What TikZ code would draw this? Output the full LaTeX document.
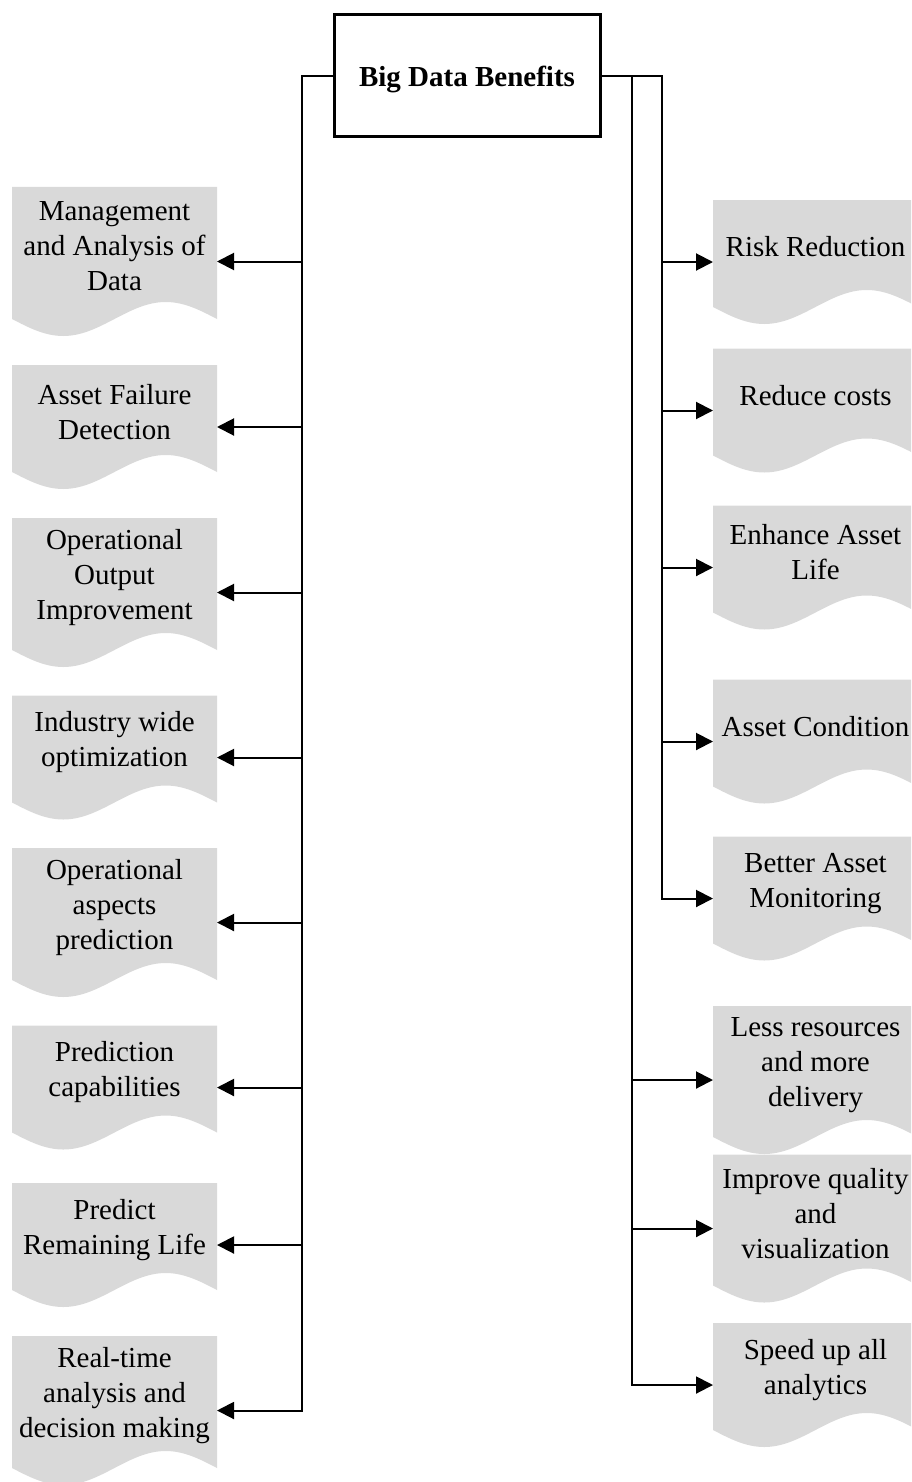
\documentclass[tikz,border=0pt]{standalone}
\usepackage{fontspec}
\setmainfont{Liberation Serif}
\usetikzlibrary{arrows.meta}
\definecolor{docfill}{RGB}{217,217,217}

\tikzset{
  docshape/.style={
    minimum width=205pt, minimum height=#1pt, inner sep=0pt, outer sep=0pt,
    path picture={
      \fill[docfill] (path picture bounding box.north west)
        -- (path picture bounding box.north east)
        -- ([yshift=17pt]path picture bounding box.south east)
        sin ++(-51.25pt,17pt) cos ++(-51.25pt,-17pt)
        sin ++(-51.25pt,-17pt) cos ++(-51.25pt,17pt) -- cycle;
    }},
  doctext/.style={align=center, inner sep=0pt,
    font=\fontsize{29}{35}\selectfont},
  titlebox/.style={draw, line width=3pt, minimum width=266pt,
    minimum height=122pt, inner sep=0pt, outer sep=0pt,
    font=\fontsize{29}{35}\selectfont\bfseries},
  conn/.style={line width=2pt, -{Triangle[length=17pt,width=17pt]}},
}

% a document-shaped box with its caption set above the wavy bottom
\newcommand\docnode[5]{%
  \node[docshape=#4] (#1) at (#2,#3) {};
  \node[doctext] (#1-t) at ([yshift=15pt]#1.center) {#5};
}

\begin{document}
\begin{tikzpicture}[x=1pt,y=-1pt]
\useasboundingbox (0,0) rectangle (911,1482);
\clip (0,0) rectangle (911,1482);

\node[titlebox] (title) at (467,76)
  {\raisebox{-3.5pt}[\height][\depth]{Big Data Benefits}};

% left column
\docnode{L1}{114.5}{261.5}{149}{Management\\and Analysis of\\Data}
\docnode{L2}{114.5}{427}{124}{Asset Failure\\Detection}
\docnode{L3}{114.5}{592.5}{149}{Operational\\Output\\Improvement}
\docnode{L4}{114.5}{757.5}{124}{Industry wide\\optimization}
\docnode{L5}{114.5}{922.5}{149}{Operational\\aspects\\prediction}
\docnode{L6}{114.5}{1087.5}{124}{Prediction\\capabilities}
\docnode{L7}{114.5}{1245}{124}{Predict\\Remaining Life}
\docnode{L8}{114.5}{1410.5}{149}{Real-time\\analysis and\\decision making}

% right column
\docnode{R1}{815.5}{262}{124}{Risk Reduction}
\docnode{R2}{815.5}{410.5}{124}{Reduce costs}
\docnode{R3}{815.5}{567.5}{124}{Enhance Asset\\Life}
\docnode{R4}{815.5}{741.5}{124}{Asset Condition}
\docnode{R5}{815.5}{898.5}{124}{Better Asset\\Monitoring}
\docnode{R6}{815.5}{1080}{148}{Less resources\\and more\\delivery}
\docnode{R7}{815.5}{1228.5}{148}{Improve quality\\and\\visualization}
\docnode{R8}{815.5}{1385}{124}{Speed up all\\analytics}

% left bus
\foreach \k in {1,...,8}
  \draw[conn] (title.west) -- ++(-32,0) |- (L\k.east);

% right buses: outer one for the first five, inner one for the rest
\foreach \k in {1,...,5}
  \draw[conn] (title.east) -- ++(62,0) |- (R\k.west);
\foreach \k in {6,7,8}
  \draw[conn] (title.east) -- ++(32,0) |- (R\k.west);
\end{tikzpicture}
\end{document}
